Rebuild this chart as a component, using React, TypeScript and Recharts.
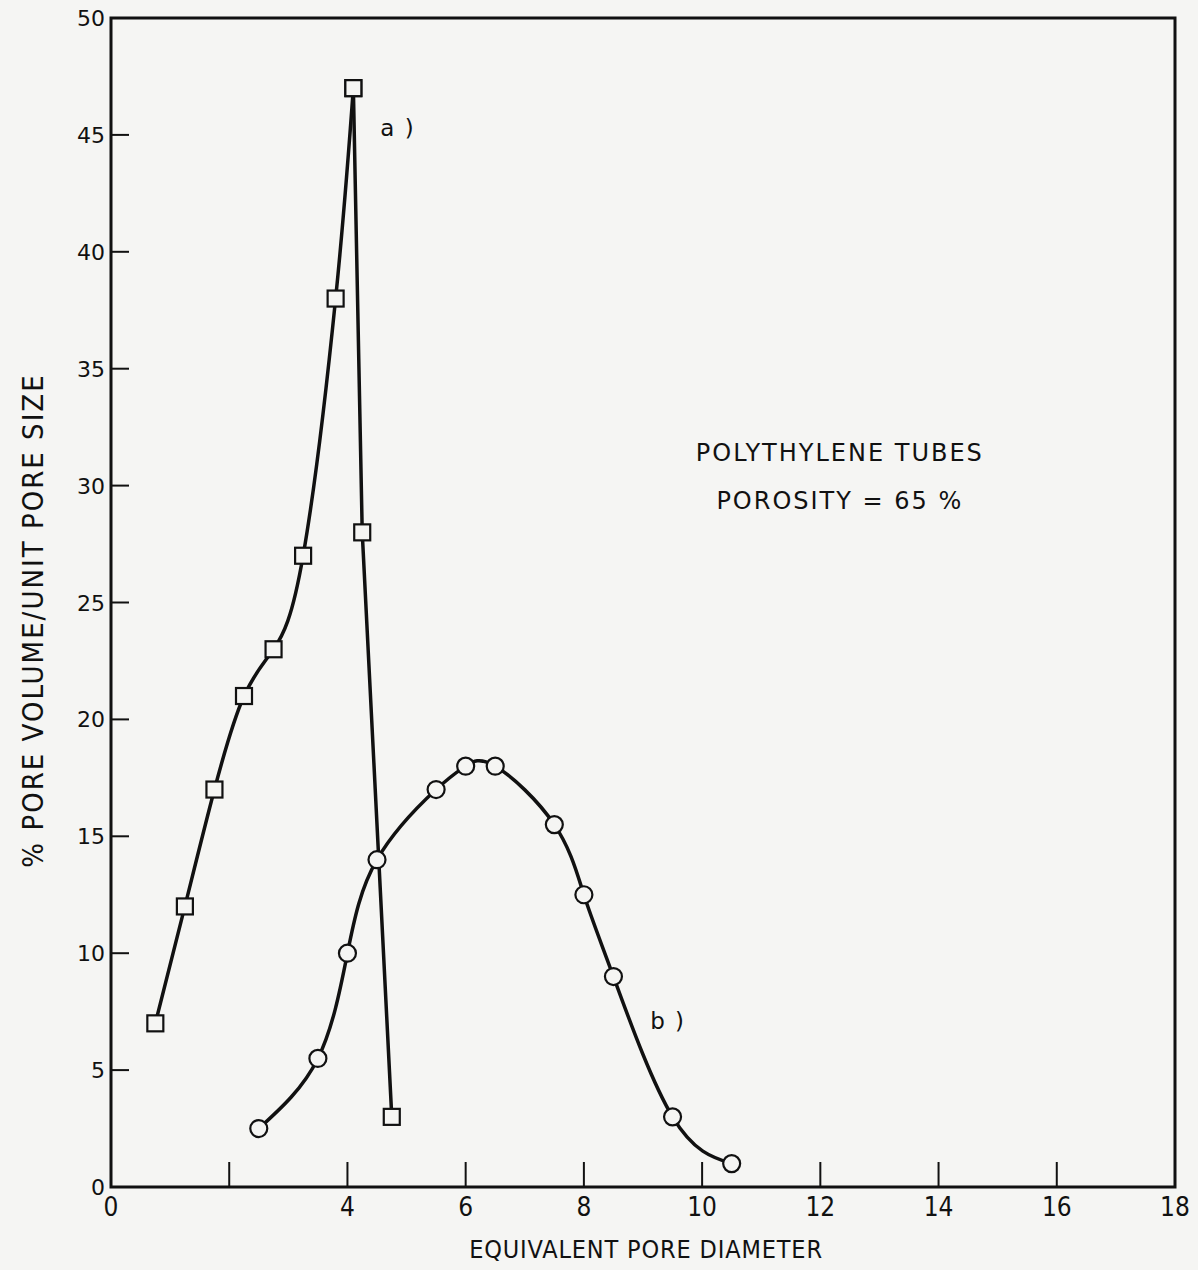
import React from 'react';
import { LineChart, Line, XAxis, YAxis, ReferenceArea, ReferenceDot, Label } from 'recharts';

// Series a) (squares)
const seriesAX = [0.75, 1.25, 1.75, 2.25, 2.75, 3.25, 3.8, 4.1, 4.25, 4.75];
const seriesAY = [7, 12, 17, 21, 23, 27, 38, 47, 28, 3];
const PEAK_INDEX = 7;

// Series b) (circles)
const seriesBX = [2.5, 3.5, 4, 4.5, 5.5, 6, 6.5, 7.5, 8, 8.5, 9.5, 10.5];
const seriesBY = [2.5, 5.5, 10, 14, 17, 18, 18, 15.5, 12.5, 9, 3, 1];

const xTicks = [0, 2, 4, 6, 8, 10, 12, 14, 16, 18];
const xTickLabels = ['0', '', '4', '6', '8', '10', '12', '14', '16', '18'];
const yTicks = [0, 5, 10, 15, 20, 25, 30, 35, 40, 45, 50];

const X_TITLE = 'EQUIVALENT PORE DIAMETER';
const Y_TITLE = '% PORE VOLUME/UNIT PORE SIZE';
const NOTE_1 = 'POLYTHYLENE TUBES';
const NOTE_2 = 'POROSITY = 65 %';

const riseData = seriesAX.slice(0, PEAK_INDEX + 1).map((x, i) => ({ x, y: seriesAY[i] }));
const fallData = seriesAX.slice(PEAK_INDEX).map((x, i) => ({ x, y: seriesAY[i + PEAK_INDEX] }));
const bData = seriesBX.map((x, i) => ({ x, y: seriesBY[i] }));

const INK = '#111';
const BG = '#f5f5f3';
const condensed = '"DejaVu Sans Condensed", "DejaVu Sans", sans-serif';
const wide = '"DejaVu Sans", sans-serif';

const SquareDot = (props: any) => {
  const { cx, cy, index } = props;
  if (cx == null || cy == null) return <g key={`s${index}`} />;
  return (
    <rect key={`s${index}`} x={cx - 8} y={cy - 8} width={16} height={16} fill={BG} stroke={INK} strokeWidth={2.2} />
  );
};

const CircleDot = (props: any) => {
  const { cx, cy, index } = props;
  if (cx == null || cy == null) return <g key={`c${index}`} />;
  return <circle key={`c${index}`} cx={cx} cy={cy} r={8.5} fill={BG} stroke={INK} strokeWidth={2.2} />;
};

const XTick = (props: any) => {
  const { x, y, payload } = props;
  const v = payload.value;
  const idx = xTicks.indexOf(v);
  const label = idx >= 0 ? xTickLabels[idx] : String(v);
  const showLine = v !== 0 && v !== 18;
  return (
    <g>
      {showLine && <line x1={x} x2={x} y1={y} y2={y - 25} stroke={INK} strokeWidth={2} />}
      <text x={x} y={y + 29} textAnchor="middle" fontFamily={condensed} fontSize={26} fill={INK}>
        {label}
      </text>
    </g>
  );
};

const YTick = (props: any) => {
  const { x, y, payload } = props;
  const v = payload.value;
  const showLine = v !== 0 && v !== 50;
  return (
    <g>
      {showLine && <line x1={x} x2={x + 18} y1={y} y2={y} stroke={INK} strokeWidth={2} />}
      <text x={x - 6} y={y + 8} textAnchor="end" fontFamily={wide} fontSize={22} fill={INK}>
        {v}
      </text>
    </g>
  );
};

const YTitle = (props: any) => {
  const { viewBox } = props;
  const cx = 33;
  const cy = viewBox.y + viewBox.height / 2 + 18;
  return (
    <text
      x={cx}
      y={cy}
      transform={`rotate(-90, ${cx}, ${cy})`}
      textAnchor="middle"
      dominantBaseline="central"
      fontFamily={condensed}
      fontSize={29}
      letterSpacing={2}
      fill={INK}
    >
      {Y_TITLE}
    </text>
  );
};

const XTitle = (props: any) => {
  const { viewBox } = props;
  const cx = viewBox.x + viewBox.width / 2 + 3;
  return (
    <text x={cx} y={1258} textAnchor="middle" fontFamily={condensed} fontSize={25} letterSpacing={0.85} fill={INK}>
      {X_TITLE}
    </text>
  );
};

const noteStyle = { fontFamily: wide, fontSize: 24, fill: INK, letterSpacing: 2 } as any;
const tagStyle = { fontFamily: wide, fontSize: 23, fill: INK, letterSpacing: 1.5 } as any;

export default function App() {
  return (
    <div style={{ position: 'absolute', left: 0, top: 0, width: 1198, height: 1270, background: BG }}>
      <LineChart width={1198} height={1270} margin={{ top: 18, right: 23, bottom: 33, left: 51 }}>
        <XAxis
          type="number"
          dataKey="x"
          domain={[0, 18]}
          ticks={xTicks}
          interval={0}
          tickSize={0}
          tickMargin={0}
          axisLine={false}
          tick={<XTick />}
          height={50}
          allowDataOverflow
        >
          <Label content={<XTitle />} />
        </XAxis>
        <YAxis
          type="number"
          dataKey="y"
          domain={[0, 50]}
          ticks={yTicks}
          interval={0}
          tickSize={0}
          tickMargin={0}
          axisLine={false}
          tick={<YTick />}
          width={60}
          allowDataOverflow
        >
          <Label content={<YTitle />} />
        </YAxis>
        <ReferenceArea x1={0} x2={18} y1={0} y2={50} fill="none" fillOpacity={0} stroke={INK} strokeWidth={3} />
        <Line
          data={riseData}
          dataKey="y"
          type="natural"
          stroke={INK}
          strokeWidth={3.5}
          dot={<SquareDot />}
          activeDot={false}
          isAnimationActive={false}
        />
        <Line
          data={fallData}
          dataKey="y"
          type="linear"
          stroke={INK}
          strokeWidth={3.5}
          dot={<SquareDot />}
          activeDot={false}
          isAnimationActive={false}
        />
        <Line
          data={bData}
          dataKey="y"
          type="natural"
          stroke={INK}
          strokeWidth={3.5}
          dot={<CircleDot />}
          activeDot={false}
          isAnimationActive={false}
        />
        <ReferenceDot x={4.85} y={45.3} r={1} fill="none" stroke="none" label={{ value: 'a )', position: 'center', style: tagStyle }} />
        <ReferenceDot x={9.42} y={7.1} r={1} fill="none" stroke="none" label={{ value: 'b )', position: 'center', style: tagStyle }} />
        <ReferenceDot x={12.33} y={31.4} r={1} fill="none" stroke="none" label={{ value: NOTE_1, position: 'center', style: noteStyle }} />
        <ReferenceDot x={12.33} y={29.35} r={1} fill="none" stroke="none" label={{ value: NOTE_2, position: 'center', style: noteStyle }} />
      </LineChart>
    </div>
  );
}
